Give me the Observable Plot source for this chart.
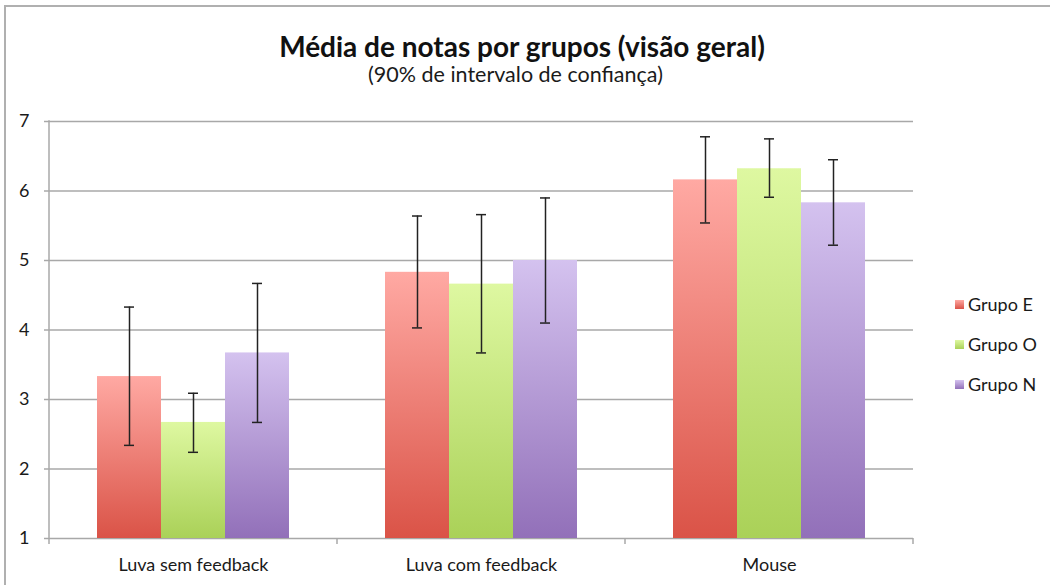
<!DOCTYPE html>
<html>
<head>
<meta charset="utf-8">
<script src="https://cdn.jsdelivr.net/npm/d3@7"></script>
<script src="https://cdn.jsdelivr.net/npm/@observablehq/plot@0.6"></script>
<style>
  html, body { margin: 0; padding: 0; background: #fff; }
  body { font-family: Lato, "Open Sans", sans-serif; }
  #wrap { position: relative; width: 1050px; height: 585px; overflow: hidden; background: #fff; }
  .bline { position: absolute; background: #b0b0b0; }
  .ttl { position: absolute; white-space: nowrap; line-height: 1; color: #111; }
  #title { font-weight: bold; font-size: 24px; }
  #subtitle { font-size: 17px; color: #1a1a1a; }
  #chart { position: absolute; left: 0; top: 0; }
  .leg { position: absolute; left: 955px; height: 20px; display: flex; align-items: center; font-size: 18px; color: #1a1a1a; white-space: nowrap; }
  .leg .sw { width: 9px; height: 9px; margin-right: 4px; }
</style>
</head>
<body>
<div id="wrap">
  <div class="bline" style="left:4px;top:5px;width:1046px;height:1.6px;"></div>
  <div class="bline" style="left:4px;top:5px;width:1.6px;height:580px;"></div>
  <div id="chart"></div>
  <div id="title" class="ttl">Média de notas por grupos (visão geral)</div>
  <div id="subtitle" class="ttl">(90% de intervalo de confiança)</div>
</div>
<script>
// ---- data ----
const categories = ["Luva sem feedback", "Luva com feedback", "Mouse"];
const groups = ["Grupo E", "Grupo O", "Grupo N"];
const meanE = [3.33, 4.83, 6.16];
const meanO = [2.67, 4.66, 6.32];
const meanN = [3.67, 5.00, 5.83];
const lowE = [2.34, 4.03, 5.54];
const highE = [4.33, 5.64, 6.78];
const lowO = [2.24, 3.67, 5.91];
const highO = [3.09, 5.66, 6.75];
const lowN = [2.67, 4.10, 5.22];
const highN = [4.67, 5.90, 6.45];
const yTicks = [1, 2, 3, 4, 5, 6, 7];

// ---- styles ----
const topColors = ["#ffa9a3", "#def8a1", "#d4c2ef"];
const bottomColors = ["#da5347", "#aad158", "#9270b9"];
const gradIds = ["gradE", "gradO", "gradN"];

const means = [meanE, meanO, meanN];
const lows = [lowE, lowO, lowN];
const highs = [highE, highO, highN];
const data = [];
categories.forEach((c, ci) => {
  groups.forEach((g, gi) => {
    data.push({cat: c, group: g, value: means[gi][ci], lo: lows[gi][ci], hi: highs[gi][ci]});
  });
});

const font = "Lato, 'Open Sans', sans-serif";
const chart = Plot.plot({
  width: 1050,
  height: 585,
  marginLeft: 48,
  marginRight: 136,
  marginTop: 121,
  marginBottom: 47,
  style: {fontFamily: font, background: "transparent", overflow: "visible"},
  fx: {domain: categories, padding: 0, label: null, axis: null},
  x: {domain: groups, paddingInner: 0, paddingOuter: 0.75, axis: null},
  y: {domain: [1, 7], axis: null},
  color: {domain: groups, range: gradIds.map(id => `url(#${id})`)},
  marks: [
    Plot.ruleY(yTicks, {stroke: "#a8a8a8", strokeWidth: 1.5}),
    Plot.axisY({ticks: yTicks, tickFormat: "d", tickSize: 5, tickPadding: 15, fontSize: 18, stroke: "#a8a8a8", strokeWidth: 1.5, fill: "#1a1a1a", label: null}),
    Plot.barY(data, {fx: "cat", x: "group", y1: 1, y2: "value", fill: "group"}),
    Plot.ruleX(data, {fx: "cat", x: "group", y1: "lo", y2: "hi", stroke: "#222", strokeWidth: 1.5}),
    Plot.tickY(data, {fx: "cat", x: "group", y: "lo", stroke: "#222", strokeWidth: 1.5, inset: 27}),
    Plot.tickY(data, {fx: "cat", x: "group", y: "hi", stroke: "#222", strokeWidth: 1.5, inset: 27}),
    Plot.axisFx({anchor: "bottom", tickSize: 0, tickPadding: 20, fontSize: 18, fill: "#1a1a1a", label: null})
  ]
});
document.getElementById("chart").appendChild(chart);

// gradients
const svg = d3.select(chart);
const defs = svg.insert("defs", ":first-child");
gradIds.forEach((id, i) => {
  const lg = defs.append("linearGradient").attr("id", id)
    .attr("x1", 0).attr("y1", 0).attr("x2", 0).attr("y2", 1);
  lg.append("stop").attr("offset", "0%").attr("stop-color", topColors[i]);
  lg.append("stop").attr("offset", "100%").attr("stop-color", bottomColors[i]);
});

// y axis line and category boundary ticks, placed with the plot's own scales
const fx = chart.scale("fx");
const y = chart.scale("y");
const y0 = y.apply(1), y7 = y.apply(7);
const edges = categories.map(c => fx.apply(c));
edges.push(fx.apply(categories[categories.length - 1]) + fx.bandwidth);
const g = svg.append("g").attr("stroke", "#a8a8a8").attr("stroke-width", 1.5);
g.append("line").attr("x1", edges[0]).attr("x2", edges[0]).attr("y1", y7 - 0.75).attr("y2", y0);
edges.forEach(x => g.append("line").attr("x1", x).attr("x2", x).attr("y1", y0).attr("y2", y0 + 6));

// legend
const wrap = document.getElementById("wrap");
const legendY = [304, 344, 384];
groups.forEach((gname, i) => {
  const d = document.createElement("div");
  d.className = "leg";
  d.style.top = (legendY[i] - 10) + "px";
  const sw = document.createElement("div");
  sw.className = "sw";
  sw.style.background = `linear-gradient(${topColors[i]}, ${bottomColors[i]})`;
  const t = document.createElement("span");
  t.textContent = gname;
  d.appendChild(sw); d.appendChild(t);
  wrap.appendChild(d);
});

// title placement: fit to reference width and centre
function place(id, width, cx, baseline) {
  const el = document.getElementById(id);
  let fs = parseFloat(getComputedStyle(el).fontSize);
  const w = el.getBoundingClientRect().width;
  fs = fs * width / w;
  el.style.fontSize = fs + "px";
  const w2 = el.getBoundingClientRect().width;
  el.style.left = (cx - w2 / 2) + "px";
  el.style.top = (baseline - 0.887 * fs) + "px";
}
place("title", 486, 522, 57);
place("subtitle", 295, 515.5, 83);
</script>
</body>
</html>
